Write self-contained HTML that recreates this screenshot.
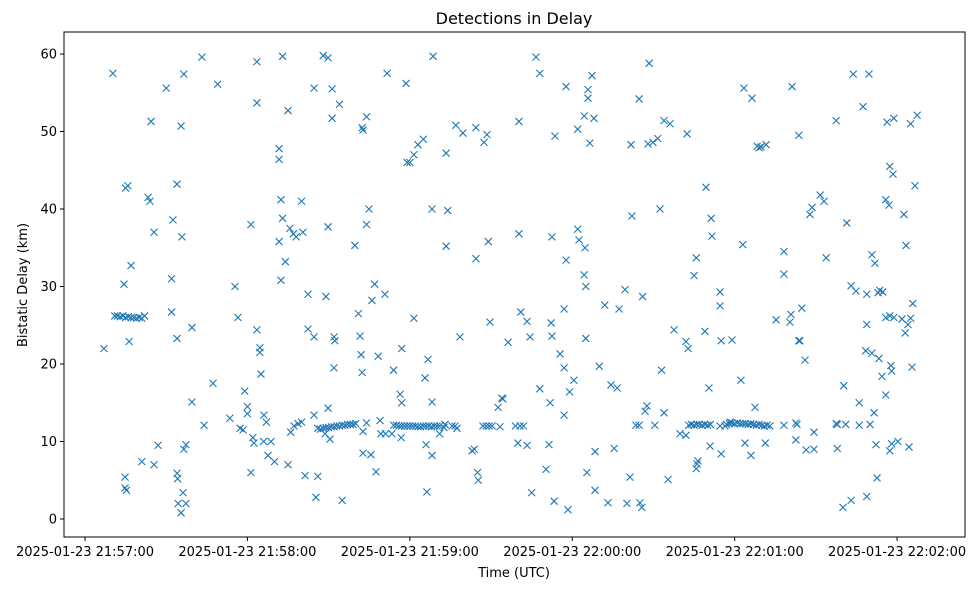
<!DOCTYPE html>
<html><head><meta charset="utf-8"><style>
body{margin:0;background:#fff}
svg text{font-family:"DejaVu Sans","Liberation Sans",sans-serif;fill:#000}
</style></head><body>
<svg id="chart" width="979" height="590">
<rect width="979" height="590" fill="#fff"/>
<text x="514" y="24" font-size="16" text-anchor="middle">Detections in Delay</text>
<text x="514" y="577" font-size="13" text-anchor="middle">Time (UTC)</text>
<text x="27" y="285" font-size="13" text-anchor="middle" transform="rotate(-90 27 285)">Bistatic Delay (km)</text>
<g id="marks"></g>
<g id="axes"></g>
<rect x="64" y="32" width="901" height="505" fill="none" stroke="#000" stroke-width="1"/>
</svg>
<script>
// seconds after 21:57:00, km
const xTickSeconds=[0,60,120,180,240,300];
const xTickLabels=["2025-01-23 21:57:00","2025-01-23 21:58:00","2025-01-23 21:59:00","2025-01-23 22:00:00","2025-01-23 22:01:00","2025-01-23 22:02:00"];
const yTicks=[0,10,20,30,40,50,60];
const detections=[
[7,22],[10.3,57.5],[11,26.2],[12,26.2],[13,26.1],[14,26.2],[15,26],[16,26.1],[17,26],[18,26],[19,25.9],[20,26],[21,25.9],[22,26.2],
[14.4,30.3],[15,42.7],[15.8,43],[17,32.7],[16.3,22.9],[14.8,5.4],[14.8,4],[15.3,3.7],[21,7.4],[23.3,41.5],[24,41],[24.4,51.3],[25.5,37],[25.5,7],[27,9.5],
[30,55.6],[32,31],[32,26.7],[32.5,38.6],[34,43.2],[34,23.3],[34,5.9],[34.2,5.2],[34.4,2],[35.5,0.8],[36.2,3.4],[37.3,2],[35.5,50.7],[36.5,57.4],[35.8,36.4],[36.5,9],[37.3,9.6],
[39.5,24.7],[39.5,15.1],[43.2,59.6],[44,12.1],[47.3,17.5],[49,56.1],[53.5,13],[55.4,30],[56.5,26],[57.3,11.7],[58.4,11.5],[59,16.5],
[60,14.5],[60,13.6],[61.3,38],[61.3,6],[62,10.5],[62.4,9.8],[63.5,59],[63.5,53.7],[63.5,24.4],[64.6,22.1],[64.6,21.5],[65,18.7],[66.1,13.4],[67,12.5],[66,10],[67.6,8.2],[68.7,10],[70,7.4],
[71.7,47.8],[71.7,46.4],[72.4,41.2],[71.7,35.8],[73,38.8],[72.4,30.8],[74,33.2],[73,59.7],[75,52.7],[75.7,37.5],[77,36.8],[78,36.4],[80.5,37],[80,41],
[75,7],[76,11.2],[77.2,12],[78.7,12.3],[80,12.5],[81.3,5.6],[82.4,29],[82.4,24.5],[84.6,23.5],[84.6,13.4],[85.3,2.8],[86,5.5],
[84.6,55.6],[88,59.8],[89.8,59.5],[91.3,55.5],[91.3,51.7],[94,53.5],[89,28.7],[89.8,37.7],[89.8,14.3],
[86,11.7],[87,11.6],[88,11.7],[89,11.8],[90,11.8],[91,11.9],[92,11.9],[93,12],[94,12],[95,12.1],[96,12.1],[97,12.2],[98,12.2],[99,12.2],[100,12.3],
[88.7,11],[90.5,10.3],[92,19.5],[92,23.5],[92.3,23],[95,2.4],
[99.7,35.3],[101,26.5],[101.6,23.6],[102,21.2],[102.4,18.9],[102.4,50.5],[102.7,50.2],[104,51.9],[104,38],[104.9,40],[106,28.2],[107,30.3],[108.3,21],
[102.7,8.5],[105.6,8.3],[107.5,6.1],[104,12.4],[102.7,11.3],[109,12.7],[109.3,11],[111,11],[110.8,29],[111.6,57.5],[114,19.2],[113.4,11],
[114,12.1],[115,12.1],[116,12],[117,12],[118,12],[119,12],[120,12],[121,12],[122,12],[123,11.9],[124,11.9],[125,12],[126,12],[127,12],[128,11.9],[129,12],[130,12],[131,12],
[116.4,16.1],[117,15],[116.8,10.5],[117,22],[118.6,56.2],[119,46],[120,46],[121.5,47],[123,48.3],[125,49],[121.5,25.9],
[125.6,18.2],[126.7,20.6],[126,9.6],[126.3,3.5],[128.2,15.1],[128.2,8.2],[128.2,40],[128.6,59.7],
[131,11],[132.6,11.8],[133,12.2],[133.4,47.2],[133.4,35.2],[134,39.8],[135.6,12],[136.7,12],[137.4,11.7],[137,50.8],[138.5,23.5],[139.6,49.8],
[143,8.8],[143.8,9],[145,6],[145.3,5],[144.4,50.5],[144.4,33.6],[147.4,48.6],[148.5,49.6],[149,35.8],[149.6,25.4],
[147,12],[148.2,12],[149.3,12],[150.4,12],[152.6,14.4],[154,15.6],[154.4,15.5],[153.3,11.9],[156.3,22.8],
[159,12],[160.7,12],[159.9,9.8],[160.3,51.3],[160.3,36.8],[161,26.7],[162,12],[163.3,9.5],[163.3,25.5],[164.4,23.5],[165,3.4],
[166.6,59.6],[168,57.5],[168,16.8],[170.3,6.4],[171.4,9.6],[171.8,15],[172.2,25.3],[172.5,23.6],[172.5,36.4],[173.3,2.3],[173.6,49.4],[175.5,21.3],
[177,13.4],[177,19.5],[177,27.1],[177.7,33.4],[177.7,55.8],[178.4,1.2],[179,16.4],[180.6,17.9],[182,37.4],[182,50.3],[182.5,36],[184.4,52],[184.7,35],[184.4,31.5],[185,30],[185,23.3],[185.4,6],[185.8,55.4],[185.8,54.3],[186.5,48.5],[187.3,57.2],[188,51.7],[188.4,3.7],[188.4,8.7],[190,19.7],
[192,27.6],[193.2,2.1],[194.3,17.3],[195.5,9.1],[196.6,16.9],[197.3,27.1],[199.5,29.6],[200.2,2],[201.3,5.4],[201.7,48.3],[202,39.1],[203.5,12.1],[204.7,12.1],[204.7,54.2],[205,2.1],[205.7,1.5],[206,28.7],[206.9,13.9],[207.6,14.6],[208,48.4],[209.8,48.6],[210.5,12.1],[208.4,58.8],[211.6,49.1],[212.4,40],[213,19.2],[213.9,51.4],[213.9,13.7],[215.4,5.1],[216.1,51],[217.6,24.4],[219.8,11],[222,10.8],[222,22.9],[222.4,49.7],[222.8,22],[225,31.4],[225.8,33.7],[225.8,6.5],[226.4,7.5],[226.1,7.1],
[223,12.1],[224,12.2],[225,12.1],[226,12.2],[227,12.2],[228,12.1],[229,12.2],[230,12.1],[231,12.2],
[229,24.2],[229.4,42.8],[230.5,16.9],[231.3,38.8],[231.6,36.5],[230.9,9.4],[234.6,29.3],[234.6,27.5],[235,23],[235,8.4],[234.6,12],[236.4,12],[238.3,12.5],[239,23.1],
[237,12.2],[238,12.3],[239,12.4],[240,12.3],[241,12.4],[242,12.3],[243,12.3],[244,12.3],[245,12.2],[246,12.3],[247,12.2],[248,12.1],[249,12.2],[250,12.1],[251,12],[252,12.1],[253,12],
[242.3,17.9],[243,35.4],[243.4,55.6],[243.8,9.8],[246,8.2],[246.4,54.3],[247.5,14.4],[248.3,48.1],[249,47.9],[249.7,48],[251.6,48.3],[251.3,9.8],
[255.3,25.7],[258.2,12.1],[258.2,34.5],[258.2,31.6],[260.4,25.4],[260.8,26.4],[261.2,55.8],[262.6,12.4],[263,12.2],[262.6,10.2],[263.7,49.5],[263.7,23],[264.1,23],[264.8,27.2],[266,20.5],[266.4,8.9],[267.8,39.3],[268.6,40.2],[269.3,9],[269.3,11.2],[271.6,41.8],[273,41],[273.8,33.7],
[277.5,12.3],[277.9,12.2],[277.5,51.4],[277.9,9.1],[280,1.5],[280.3,17.2],[281.4,38.2],[281,12.2],[283,2.4],[283.8,57.4],[283,30.1],[284.8,29.4],[286,15],[286,12.1],[287.4,53.2],[288.4,21.7],[288.8,25.1],[288.8,29],[288.8,2.9],[289.6,57.4],[290,12.2],[290.7,34.1],[290.7,21.4],[291.5,13.7],[291.8,33],[292.2,9.6],[292.6,5.3],[293,29.2],[293.3,20.7],[293.6,29.5],[294.4,18.4],[294.7,29.3],[295.8,16],[295.8,26],[295.8,41.2],[296.3,51.2],[297,40.5],[297.3,45.5],[297.3,26.2],[297.7,19.8],[298,19.1],[298.5,44.5],[298.8,26],[298.8,51.7],[298,9.7],[297.3,8.8],[300.3,10],[301.8,25.8],[302.5,39.3],[303,24],[303.3,35.3],[304,25.1],[304.4,9.3],[305,51],[305,25.9],[305.5,19.6],[305.8,27.8],[306.6,43],[307.4,52.1]
];
const NS="http://www.w3.org/2000/svg";
const xScale=s=>85+s*2.707;
const yScale=v=>519-v*7.75;
const marks=document.getElementById('marks');
const axes=document.getElementById('axes');
function mk(tag,attrs,parent){const e=document.createElementNS(NS,tag);for(const k in attrs)e.setAttribute(k,attrs[k]);parent.appendChild(e);return e;}
detections.forEach(d=>{
  const cx=xScale(d[0]),cy=yScale(d[1]),r=3.5;
  const p=mk('path',{d:`M${cx-r},${cy-r}L${cx+r},${cy+r}M${cx-r},${cy+r}L${cx+r},${cy-r}`,stroke:'#1f77b4','stroke-width':1.1,fill:'none'},marks);
  
  
});
xTickSeconds.forEach((s,i)=>{
  const x=xScale(s);
  const t=mk('line',{x1:x,x2:x,y1:537,y2:541,stroke:'#000'},axes);
  
  
  const l=mk('text',{x:x,y:556,'font-size':13,'text-anchor':'middle'},axes);
  l.textContent=xTickLabels[i];
  
  
});
yTicks.forEach(v=>{
  const y=yScale(v);
  const t=mk('line',{x1:60,x2:64,y1:y,y2:y,stroke:'#000'},axes);
  
  
  const l=mk('text',{x:57,y:y+4.5,'font-size':13,'text-anchor':'end'},axes);
  l.textContent=v;
  
  
});
</script>
</body></html>
